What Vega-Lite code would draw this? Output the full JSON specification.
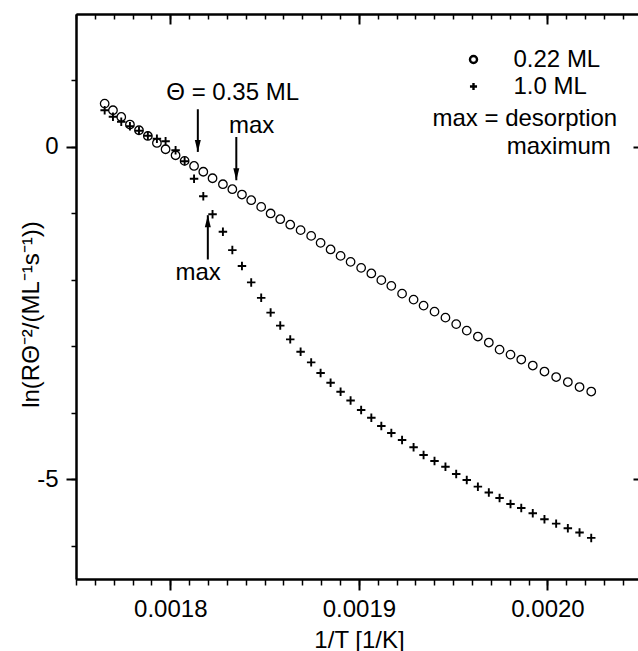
{
  "$schema": "https://vega.github.io/schema/vega-lite/v6.json",
  "width": 562,
  "height": 565,
  "autosize": {"type": "none"},
  "padding": {"left": 76, "top": 14, "right": 0, "bottom": 72},
  "background": "white",
  "config": {
    "view": {"stroke": null},
    "font": "Liberation Sans",
    "axis": {
      "grid": false,
      "domainColor": "black",
      "domainWidth": 2,
      "tickColor": "black",
      "tickWidth": 2,
      "labelColor": "black",
      "titleColor": "black",
      "labelFont": "Liberation Sans",
      "titleFont": "Liberation Sans",
      "labelFontSize": 24,
      "titleFontSize": 24,
      "titleFontWeight": "normal"
    }
  },
  "datasets": {
    "pts": [
      {"invT": 0.0017652, "lnR": 0.652, "series": "0.22 ML"},
      {"invT": 0.0017696, "lnR": 0.552, "series": "0.22 ML"},
      {"invT": 0.0017740, "lnR": 0.451, "series": "0.22 ML"},
      {"invT": 0.0017786, "lnR": 0.337, "series": "0.22 ML"},
      {"invT": 0.0017834, "lnR": 0.251, "series": "0.22 ML"},
      {"invT": 0.0017881, "lnR": 0.165, "series": "0.22 ML"},
      {"invT": 0.0017929, "lnR": 0.060, "series": "0.22 ML"},
      {"invT": 0.0017975, "lnR": -0.035, "series": "0.22 ML"},
      {"invT": 0.0018028, "lnR": -0.125, "series": "0.22 ML"},
      {"invT": 0.0018076, "lnR": -0.210, "series": "0.22 ML"},
      {"invT": 0.0018126, "lnR": -0.286, "series": "0.22 ML"},
      {"invT": 0.0018175, "lnR": -0.373, "series": "0.22 ML"},
      {"invT": 0.0018224, "lnR": -0.471, "series": "0.22 ML"},
      {"invT": 0.0018279, "lnR": -0.561, "series": "0.22 ML"},
      {"invT": 0.0018329, "lnR": -0.636, "series": "0.22 ML"},
      {"invT": 0.0018380, "lnR": -0.716, "series": "0.22 ML"},
      {"invT": 0.0018429, "lnR": -0.801, "series": "0.22 ML"},
      {"invT": 0.0018482, "lnR": -0.902, "series": "0.22 ML"},
      {"invT": 0.0018532, "lnR": -1.001, "series": "0.22 ML"},
      {"invT": 0.0018583, "lnR": -1.087, "series": "0.22 ML"},
      {"invT": 0.0018636, "lnR": -1.170, "series": "0.22 ML"},
      {"invT": 0.0018691, "lnR": -1.252, "series": "0.22 ML"},
      {"invT": 0.0018747, "lnR": -1.338, "series": "0.22 ML"},
      {"invT": 0.0018797, "lnR": -1.443, "series": "0.22 ML"},
      {"invT": 0.0018850, "lnR": -1.542, "series": "0.22 ML"},
      {"invT": 0.0018903, "lnR": -1.639, "series": "0.22 ML"},
      {"invT": 0.0018956, "lnR": -1.729, "series": "0.22 ML"},
      {"invT": 0.0019012, "lnR": -1.819, "series": "0.22 ML"},
      {"invT": 0.0019066, "lnR": -1.903, "series": "0.22 ML"},
      {"invT": 0.0019119, "lnR": -2.004, "series": "0.22 ML"},
      {"invT": 0.0019172, "lnR": -2.090, "series": "0.22 ML"},
      {"invT": 0.0019229, "lnR": -2.207, "series": "0.22 ML"},
      {"invT": 0.0019290, "lnR": -2.297, "series": "0.22 ML"},
      {"invT": 0.0019343, "lnR": -2.387, "series": "0.22 ML"},
      {"invT": 0.0019401, "lnR": -2.477, "series": "0.22 ML"},
      {"invT": 0.0019459, "lnR": -2.568, "series": "0.22 ML"},
      {"invT": 0.0019516, "lnR": -2.665, "series": "0.22 ML"},
      {"invT": 0.0019572, "lnR": -2.763, "series": "0.22 ML"},
      {"invT": 0.0019631, "lnR": -2.853, "series": "0.22 ML"},
      {"invT": 0.0019689, "lnR": -2.943, "series": "0.22 ML"},
      {"invT": 0.0019746, "lnR": -3.049, "series": "0.22 ML"},
      {"invT": 0.0019804, "lnR": -3.124, "series": "0.22 ML"},
      {"invT": 0.0019861, "lnR": -3.199, "series": "0.22 ML"},
      {"invT": 0.0019922, "lnR": -3.289, "series": "0.22 ML"},
      {"invT": 0.0019984, "lnR": -3.379, "series": "0.22 ML"},
      {"invT": 0.0020046, "lnR": -3.462, "series": "0.22 ML"},
      {"invT": 0.0020108, "lnR": -3.537, "series": "0.22 ML"},
      {"invT": 0.0020170, "lnR": -3.612, "series": "0.22 ML"},
      {"invT": 0.0020232, "lnR": -3.680, "series": "0.22 ML"},
      {"invT": 0.0017652, "lnR": 0.552, "series": "1.0 ML"},
      {"invT": 0.0017696, "lnR": 0.454, "series": "1.0 ML"},
      {"invT": 0.0017740, "lnR": 0.379, "series": "1.0 ML"},
      {"invT": 0.0017786, "lnR": 0.311, "series": "1.0 ML"},
      {"invT": 0.0017834, "lnR": 0.244, "series": "1.0 ML"},
      {"invT": 0.0017881, "lnR": 0.168, "series": "1.0 ML"},
      {"invT": 0.0017929, "lnR": 0.123, "series": "1.0 ML"},
      {"invT": 0.0017975, "lnR": 0.086, "series": "1.0 ML"},
      {"invT": 0.0018028, "lnR": -0.050, "series": "1.0 ML"},
      {"invT": 0.0018076, "lnR": -0.215, "series": "1.0 ML"},
      {"invT": 0.0018126, "lnR": -0.478, "series": "1.0 ML"},
      {"invT": 0.0018175, "lnR": -0.741, "series": "1.0 ML"},
      {"invT": 0.0018224, "lnR": -1.012, "series": "1.0 ML"},
      {"invT": 0.0018279, "lnR": -1.275, "series": "1.0 ML"},
      {"invT": 0.0018329, "lnR": -1.552, "series": "1.0 ML"},
      {"invT": 0.0018380, "lnR": -1.792, "series": "1.0 ML"},
      {"invT": 0.0018429, "lnR": -2.038, "series": "1.0 ML"},
      {"invT": 0.0018482, "lnR": -2.270, "series": "1.0 ML"},
      {"invT": 0.0018532, "lnR": -2.492, "series": "1.0 ML"},
      {"invT": 0.0018583, "lnR": -2.688, "series": "1.0 ML"},
      {"invT": 0.0018636, "lnR": -2.895, "series": "1.0 ML"},
      {"invT": 0.0018691, "lnR": -3.082, "series": "1.0 ML"},
      {"invT": 0.0018747, "lnR": -3.241, "series": "1.0 ML"},
      {"invT": 0.0018797, "lnR": -3.402, "series": "1.0 ML"},
      {"invT": 0.0018850, "lnR": -3.548, "series": "1.0 ML"},
      {"invT": 0.0018903, "lnR": -3.683, "series": "1.0 ML"},
      {"invT": 0.0018956, "lnR": -3.815, "series": "1.0 ML"},
      {"invT": 0.0019012, "lnR": -3.958, "series": "1.0 ML"},
      {"invT": 0.0019066, "lnR": -4.074, "series": "1.0 ML"},
      {"invT": 0.0019119, "lnR": -4.199, "series": "1.0 ML"},
      {"invT": 0.0019172, "lnR": -4.304, "series": "1.0 ML"},
      {"invT": 0.0019229, "lnR": -4.409, "series": "1.0 ML"},
      {"invT": 0.0019290, "lnR": -4.519, "series": "1.0 ML"},
      {"invT": 0.0019343, "lnR": -4.635, "series": "1.0 ML"},
      {"invT": 0.0019401, "lnR": -4.725, "series": "1.0 ML"},
      {"invT": 0.0019459, "lnR": -4.811, "series": "1.0 ML"},
      {"invT": 0.0019516, "lnR": -4.920, "series": "1.0 ML"},
      {"invT": 0.0019572, "lnR": -5.011, "series": "1.0 ML"},
      {"invT": 0.0019631, "lnR": -5.111, "series": "1.0 ML"},
      {"invT": 0.0019689, "lnR": -5.198, "series": "1.0 ML"},
      {"invT": 0.0019746, "lnR": -5.281, "series": "1.0 ML"},
      {"invT": 0.0019804, "lnR": -5.371, "series": "1.0 ML"},
      {"invT": 0.0019861, "lnR": -5.431, "series": "1.0 ML"},
      {"invT": 0.0019922, "lnR": -5.511, "series": "1.0 ML"},
      {"invT": 0.0019984, "lnR": -5.601, "series": "1.0 ML"},
      {"invT": 0.0020046, "lnR": -5.667, "series": "1.0 ML"},
      {"invT": 0.0020108, "lnR": -5.737, "series": "1.0 ML"},
      {"invT": 0.0020170, "lnR": -5.800, "series": "1.0 ML"},
      {"invT": 0.0020232, "lnR": -5.882, "series": "1.0 ML"}
    ],
    "arrows": [
      {"x": 0.0018146, "y1": 0.567, "y2": -0.075, "dir": "down"},
      {"x": 0.0018350, "y1": 0.150, "y2": -0.501, "dir": "down"},
      {"x": 0.0018199, "y1": -1.693, "y2": -1.027, "dir": "up"}
    ],
    "notes": [
      {"x": 0.0017979, "y": 0.713, "label": "Θ = 0.35 ML"},
      {"x": 0.0018311, "y": 0.210, "label": "max"},
      {"x": 0.0018027, "y": -2.004, "label": "max"},
      {"x": 0.0019390, "y": 0.311, "label": "max = desorption"},
      {"x": 0.0019784, "y": -0.110, "label": "maximum"}
    ]
  },
  "layer": [
    {
      "data": {"name": "pts"},
      "mark": {"type": "point", "filled": false, "stroke": "black", "size": 72, "opacity": 1},
      "encoding": {
        "x": {
          "field": "invT", "type": "quantitative",
          "scale": {"domain": [0.00175, 0.002048], "nice": false, "zero": false},
          "axis": {
            "orient": "bottom", "values": [0.0018, 0.0019, 0.002], "format": ".4f",
            "tickSize": 11, "labelPadding": 26, "labelBaseline": "alphabetic",
            "labelFlush": false, "labelOverlap": false,
            "title": "1/T [1/K]", "titleBaseline": "alphabetic", "titleY": 68, "titleX": 283, "titleAlign": "center"
          }
        },
        "y": {
          "field": "lnR", "type": "quantitative",
          "scale": {"domain": [-6.5, 2], "nice": false, "zero": false},
          "axis": {
            "orient": "left", "values": [0, -5], "tickSize": 10, "labelPadding": 8,
            "labelFlush": false, "labelOverlap": false,
            "labelExpr": "replace(datum.label, '−', '-')",
            "title": "ln(RΘ⁻²/(ML⁻¹s⁻¹))", "titleAngle": 270, "titleBaseline": "alphabetic",
            "titleX": -38, "titleY": 300, "titleAlign": "center"
          }
        },
        "strokeWidth": {"condition": {"test": "datum.series === '1.0 ML'", "value": 1.9}, "value": 1.3},
        "shape": {
          "field": "series", "type": "nominal",
          "scale": {"domain": ["0.22 ML", "1.0 ML"], "range": ["circle", "M-1,0H1M0,-1V1"]},
          "legend": {
            "orient": "none", "legendX": 385.5, "legendY": 33.5, "title": null,
            "labelFontSize": 24, "labelFont": "Liberation Sans", "labelColor": "black",
            "labelOffset": 28, "symbolSize": 50, "symbolStrokeWidth": 2.4,
            "symbolStrokeColor": "black", "symbolFillColor": "transparent",
            "rowPadding": 3, "padding": 0
          }
        }
      }
    },
    {
      "data": {"name": "arrows"},
      "mark": {"type": "rule", "stroke": "black", "strokeWidth": 2},
      "encoding": {
        "x": {
          "field": "x", "type": "quantitative",
          "scale": {"domain": [0.00175, 0.002048], "nice": false, "zero": false},
          "axis": {
            "orient": "bottom",
            "values": [0.00175, 0.00176, 0.00177, 0.00178, 0.00179, 0.0018, 0.00181, 0.00182, 0.00183, 0.00184, 0.00185, 0.00186, 0.00187, 0.00188, 0.00189, 0.0019, 0.00191, 0.00192, 0.00193, 0.00194, 0.00195, 0.00196, 0.00197, 0.00198, 0.00199, 0.002, 0.00201, 0.00202, 0.00203, 0.00204],
            "tickSize": 6, "tickWidth": 1.5, "labels": false, "title": null
          }
        },
        "y": {
          "field": "y1", "type": "quantitative",
          "scale": {"domain": [-6.5, 2], "nice": false, "zero": false},
          "axis": {
            "orient": "left", "values": [1, 0, -1, -2, -3, -4, -5, -6],
            "tickSize": 5, "tickWidth": 1.5, "labels": false, "title": null
          }
        },
        "y2": {"field": "y2"}
      }
    },
    {
      "data": {"name": "arrows"},
      "transform": [{"filter": "datum.dir === 'down'"}],
      "mark": {"type": "point", "shape": "M-0.5,-2L0.5,-2L0,0Z", "filled": true, "fill": "black", "stroke": null, "size": 144, "opacity": 1},
      "encoding": {
        "x": {
          "field": "x", "type": "quantitative",
          "scale": {"domain": [0.00175, 0.002048], "nice": false, "zero": false},
          "axis": {"orient": "top", "values": [0.0018, 0.0019, 0.002], "tickSize": -10, "labels": false, "title": null}
        },
        "y": {
          "field": "y2", "type": "quantitative",
          "scale": {"domain": [-6.5, 2], "nice": false, "zero": false},
          "axis": {"orient": "right", "values": [0, -5], "tickSize": -9, "offset": 4, "labels": false, "title": null}
        }
      }
    },
    {
      "data": {"name": "arrows"},
      "transform": [{"filter": "datum.dir === 'up'"}],
      "mark": {"type": "point", "shape": "M-0.5,2L0.5,2L0,0Z", "filled": true, "fill": "black", "stroke": null, "size": 144, "opacity": 1},
      "encoding": {
        "x": {"field": "x", "type": "quantitative", "scale": {"domain": [0.00175, 0.002048], "nice": false, "zero": false}, "axis": null},
        "y": {"field": "y2", "type": "quantitative", "scale": {"domain": [-6.5, 2], "nice": false, "zero": false}, "axis": null}
      }
    },
    {
      "data": {"name": "notes"},
      "mark": {"type": "text", "align": "left", "baseline": "alphabetic", "fontSize": 24, "font": "Liberation Sans", "color": "black"},
      "encoding": {
        "x": {
          "field": "x", "type": "quantitative",
          "scale": {"domain": [0.00175, 0.002048], "nice": false, "zero": false},
          "axis": {
            "orient": "top",
            "values": [0.00175, 0.00176, 0.00177, 0.00178, 0.00179, 0.0018, 0.00181, 0.00182, 0.00183, 0.00184, 0.00185, 0.00186, 0.00187, 0.00188, 0.00189, 0.0019, 0.00191, 0.00192, 0.00193, 0.00194, 0.00195, 0.00196, 0.00197, 0.00198, 0.00199, 0.002, 0.00201, 0.00202, 0.00203, 0.00204],
            "tickSize": -5, "tickWidth": 1.5, "labels": false, "title": null
          }
        },
        "y": {
          "field": "y", "type": "quantitative",
          "scale": {"domain": [-6.5, 2], "nice": false, "zero": false},
          "axis": {"orient": "right", "values": [1, 0, -1, -2, -3, -4, -5, -6], "tickSize": -3, "tickWidth": 1.5, "offset": 4, "labels": false, "title": null}
        },
        "text": {"field": "label", "type": "nominal"}
      }
    }
  ],
  "resolve": {"axis": {"x": "independent", "y": "independent"}}
}
